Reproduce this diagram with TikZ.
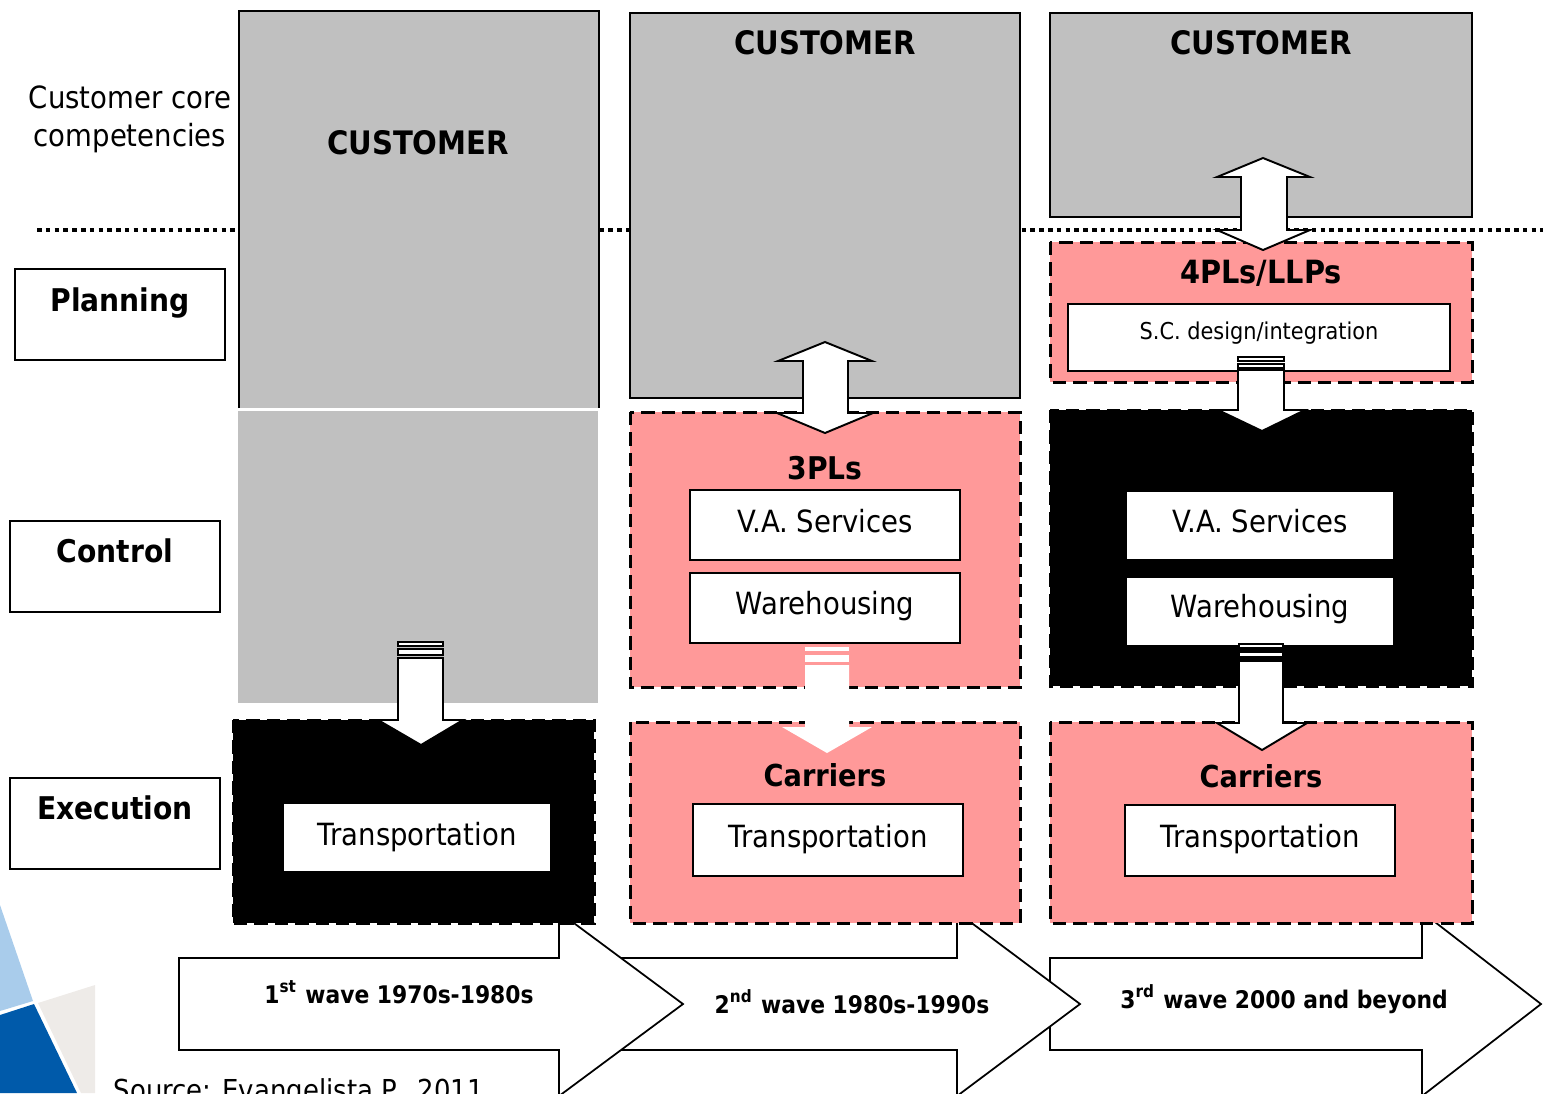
\documentclass[tikz,border=0pt]{standalone}
\usepackage{fontspec}
\setmainfont{DejaVu Sans}[FakeStretch=0.9]
\definecolor{silver}{RGB}{192, 192, 192}
\definecolor{rosepink}{RGB}{255, 153, 153}
\definecolor{skyblue}{RGB}{169, 204, 235}
\definecolor{cobalt}{RGB}{0, 90, 170}
\definecolor{pearl}{RGB}{238, 235, 232}

\begin{document}
\begin{tikzpicture}[x=0.01cm, y=-0.01cm,
        heading/.style={anchor=base, font=\fontsize{8.9}{11}\selectfont\bfseries},
        plain/.style={anchor=base, font=\fontsize{8.7}{10.8}\selectfont},
        wavetext/.style={anchor=base, font=\fontsize{6.9}{8}\selectfont\bfseries},
        outline/.style={line width=0.6pt},
        dashedge/.style={dash pattern=on 3.8pt off 2pt, line width=0.85pt},
        blockarrow/.style={fill=white, draw=black, line width=0.55pt}]
            \useasboundingbox                                          (0, 0) rectangle (1543, 1093);
            \draw[line width=0.9pt, dash pattern=on 1.3pt off 1.2pt]   (37, 230) -- (1543, 230);

            \fill[skyblue]                                             (0, 905) -- (33, 1001) -- (0, 1011) -- cycle;
            \fill[cobalt]                                              (0, 1015) -- (34, 1004) -- (77, 1093) -- (0, 1093) -- cycle;
            \fill[pearl]                                               (38, 1003) -- (95, 985) -- (95, 1093) -- (81, 1093) -- cycle;
            \node[plain, anchor=base west, inner sep=0pt, font=\fontsize{8.2}{10}\selectfont] (source) at (113, 1100) {Source: Evangelista P., 2011};

            \filldraw[fill=white, line width=0.5pt]                    (1050, 958) -- (1422, 958) -- (1422, 912) -- (1541, 1004) -- (1422, 1096) -- (1422, 1050) -- (1050, 1050) -- cycle;
            \filldraw[fill=white, line width=0.5pt]                    (600, 958) -- (957, 958) -- (957, 912) -- (1080, 1004) -- (957, 1096) -- (957, 1050) -- (600, 1050) -- cycle;
            \filldraw[fill=white, line width=0.5pt]                    (179, 958) -- (559, 958) -- (559, 912) -- (683, 1004) -- (559, 1096) -- (559, 1050) -- (179, 1050) -- cycle;
            \node[wavetext] (wave1) at (399, 1003)                     {1\textsuperscript{st} wave 1970s-1980s};
            \node[wavetext] (wave2) at (852, 1013)                     {2\textsuperscript{nd} wave 1980s-1990s};
            \node[wavetext] (wave3) at (1284, 1008)                    {3\textsuperscript{rd} wave 2000 and beyond};

            \node[plain, align=center, anchor=center] (core) at (130, 119) {Customer core\\competencies};
            \filldraw[fill=white, outline]                             (15, 269) rectangle (225, 360);
            \filldraw[fill=white, outline]                             (10, 521) rectangle (220, 612);
            \filldraw[fill=white, outline]                             (10, 778) rectangle (220, 869);
            \node[heading] (planning) at (120, 311)                    {Planning};
            \node[heading] (control) at (115, 562)                     {Control};
            \node[heading] (execution) at (115, 819)                   {Execution};

            \fill[silver]                                              (239, 11) rectangle (599, 408);
            \draw[outline]                                             (239, 408) -- (239, 11) -- (599, 11) -- (599, 408);
            \fill[silver]                                              (238, 411) rectangle (598, 703);
            \filldraw[fill=black, dashedge]                            (233, 720) rectangle (594, 923);
            \filldraw[fill=white, outline]                             (283, 803) rectangle (551, 872);
            \filldraw[blockarrow]                                      (398, 658) -- (443, 658) -- (443, 720) -- (463, 720) -- (421, 745) -- (378, 720) -- (398, 720) -- cycle;
            \filldraw[blockarrow]                                      (398, 642) rectangle (443, 646);
            \filldraw[blockarrow]                                      (398, 649) rectangle (443, 655);
            \node[heading, font=\fontsize{9.2}{11}\selectfont\bfseries] (cust1) at (418, 154) {CUSTOMER};
            \node[plain] (trans1) at (417, 845)                        {Transportation};

            \filldraw[fill=silver, outline]                            (630, 13) rectangle (1020, 398);
            \filldraw[fill=rosepink, dashedge]                         (630, 412) rectangle (1020, 687);
            \filldraw[fill=rosepink, dashedge]                         (630, 722) rectangle (1020, 923);
            \filldraw[fill=white, outline]                             (690, 490) rectangle (960, 560);
            \filldraw[fill=white, outline]                             (690, 573) rectangle (960, 643);
            \filldraw[fill=white, outline]                             (693, 804) rectangle (963, 876);
            \filldraw[blockarrow]                                      (825, 342) -- (872, 361) -- (848, 361) -- (848, 413) -- (873, 413) -- (825, 433) -- (777, 413) -- (803, 413) -- (803, 361) -- (778, 361) -- cycle;
            \fill[white]                                               (805, 665) -- (849, 665) -- (849, 727) -- (872, 727) -- (827, 753) -- (782, 727) -- (805, 727) -- cycle;
            \fill[white]                                               (805, 647) rectangle (849, 651);
            \fill[white]                                               (805, 655) rectangle (849, 662);
            \node[heading, font=\fontsize{9.2}{11}\selectfont\bfseries] (cust2) at (825, 54) {CUSTOMER};
            \node[heading] (tpl) at (825, 479)                         {3PLs};
            \node[plain] (vas2) at (825, 532)                          {V.A. Services};
            \node[plain] (ware2) at (825, 614)                         {Warehousing};
            \node[heading, font=\fontsize{8.6}{11}\selectfont\bfseries] (carr2) at (825, 786) {Carriers};
            \node[plain] (trans2) at (828, 847)                        {Transportation};

            \filldraw[fill=silver, outline]                            (1050, 13) rectangle (1472, 217);
            \filldraw[fill=rosepink, dashedge]                         (1050, 242) rectangle (1472, 382);
            \filldraw[fill=white, outline]                             (1068, 304) rectangle (1450, 371);
            \filldraw[fill=black, dashedge]                            (1050, 410) rectangle (1472, 686);
            \filldraw[fill=white, outline]                             (1126, 491) rectangle (1394, 560);
            \filldraw[fill=white, outline]                             (1126, 577) rectangle (1394, 646);
            \filldraw[fill=rosepink, dashedge]                         (1050, 722) rectangle (1472, 923);
            \filldraw[fill=white, outline]                             (1125, 805) rectangle (1395, 876);
            \filldraw[blockarrow]                                      (1263, 158) -- (1310, 177) -- (1287, 177) -- (1287, 230) -- (1310, 230) -- (1263, 250) -- (1217, 230) -- (1241, 230) -- (1241, 177) -- (1217, 177) -- cycle;
            \filldraw[blockarrow]                                      (1238, 370) -- (1284, 370) -- (1284, 410) -- (1305, 410) -- (1262, 431) -- (1218, 410) -- (1238, 410) -- cycle;
            \filldraw[blockarrow]                                      (1238, 357) rectangle (1284, 361);
            \filldraw[blockarrow]                                      (1238, 364) rectangle (1284, 368);
            \filldraw[blockarrow]                                      (1239, 661) -- (1283, 661) -- (1283, 723) -- (1307, 723) -- (1262, 750) -- (1217, 723) -- (1239, 723) -- cycle;
            \filldraw[blockarrow]                                      (1239, 644) rectangle (1283, 648);
            \filldraw[blockarrow]                                      (1239, 652) rectangle (1283, 657);
            \node[heading, font=\fontsize{9.2}{11}\selectfont\bfseries] (cust3) at (1261, 54) {CUSTOMER};
            \node[heading, font=\fontsize{9.1}{11}\selectfont\bfseries] (fpl) at (1261, 283) {4PLs/LLPs};
            \node[plain, font=\fontsize{6.6}{8}\selectfont] (scd) at (1259, 339) {S.C. design/integration};
            \node[plain] (vas3) at (1260, 532)                         {V.A. Services};
            \node[plain] (ware3) at (1260, 617)                        {Warehousing};
            \node[heading, font=\fontsize{8.6}{11}\selectfont\bfseries] (carr3) at (1261, 787) {Carriers};
            \node[plain] (trans3) at (1260, 847)                       {Transportation};
        \end{tikzpicture}
\end{document}
